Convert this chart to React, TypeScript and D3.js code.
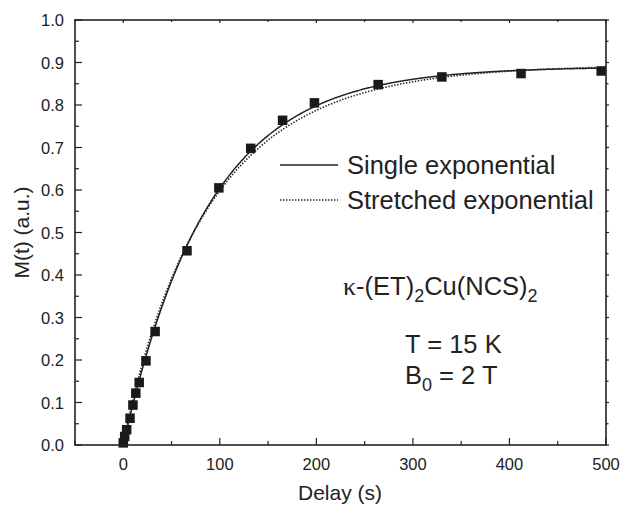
import React from "react";
import * as d3 from "d3";

const delays = [0, 1.5, 3.5, 7, 10, 13, 16.5, 23.5, 33, 66, 99, 132, 165, 198, 264, 330, 412, 495];
const magnetization = [0.005, 0.02, 0.036, 0.063, 0.094, 0.122, 0.147, 0.198, 0.267, 0.457, 0.605, 0.698, 0.764, 0.805, 0.848, 0.866, 0.874, 0.88];

// fit parameters
const singleFit = { m0: 0.89, t1: 88 };
const stretchedFit = { m0: 0.895, t1: 90, beta: 0.94 };

const xTicks = [0, 100, 200, 300, 400, 500];
const xMinor = [-50, 50, 150, 250, 350, 450];
const yTicks = [0, 0.1, 0.2, 0.3, 0.4, 0.5, 0.6, 0.7, 0.8, 0.9, 1.0];
const yMinor = [0.05, 0.15, 0.25, 0.35, 0.45, 0.55, 0.65, 0.75, 0.85, 0.95];

const W = 621;
const H = 507;
const L = 75, R = 606, T = 20, B = 445;
const ink = "#222";
const font = "Liberation Sans, Arial, Helvetica, sans-serif";

export default function App() {
  const x = d3.scaleLinear().domain([-50, 500]).range([L, R]);
  const y = d3.scaleLinear().domain([0, 1]).range([B, T]);

  const tGrid = d3.range(0, 500.5, 1);
  const single = tGrid.map((t) => [t, singleFit.m0 * (1 - Math.exp(-t / singleFit.t1))] as [number, number]);
  const stretched = tGrid.map(
    (t) => [t, stretchedFit.m0 * (1 - Math.exp(-Math.pow(t / stretchedFit.t1, stretchedFit.beta)))] as [number, number]
  );
  const line = d3
    .line<[number, number]>()
    .x((d) => x(d[0]))
    .y((d) => y(d[1]));

  const ms = 9.5;

  return (
    <div style={{ position: "absolute", left: 0, top: 0 }}>
      <svg width={W} height={H} style={{ display: "block", background: "#fff" }} fontFamily={font}>
        {/* curves */}
        <path d={line(stretched) || ""} fill="none" stroke={ink} strokeWidth={1.6} strokeDasharray="1.4,1.6" />
        <path d={line(single) || ""} fill="none" stroke={ink} strokeWidth={1.5} />
        {/* markers */}
        {delays.map((t, i) => (
          <rect key={i} x={x(t) - ms / 2} y={y(magnetization[i]) - ms / 2} width={ms} height={ms} fill="#1a1a1a" />
        ))}
        {/* frame */}
        <rect x={L} y={T} width={R - L} height={B - T} fill="none" stroke={ink} strokeWidth={1.6} />
        {/* x ticks */}
        {xTicks.map((v) => (
          <g key={"xt" + v}>
            <line x1={x(v)} x2={x(v)} y1={B} y2={B - 7} stroke={ink} strokeWidth={1.2} />
            <line x1={x(v)} x2={x(v)} y1={T} y2={T + 3} stroke={ink} strokeWidth={1.2} />
            <text x={x(v)} y={B + 25} textAnchor="middle" fontSize={16.5} fill={ink}>
              {v}
            </text>
          </g>
        ))}
        {xMinor.map((v) => (
          <g key={"xm" + v}>
            <line x1={x(v)} x2={x(v)} y1={B} y2={B - 4} stroke={ink} strokeWidth={1.2} />
            <line x1={x(v)} x2={x(v)} y1={T} y2={T + 2} stroke={ink} strokeWidth={1.2} />
          </g>
        ))}
        {/* y ticks */}
        {yTicks.map((v) => (
          <g key={"yt" + v}>
            <line x1={L} x2={L + 7} y1={y(v)} y2={y(v)} stroke={ink} strokeWidth={1.2} />
            <line x1={R} x2={R + 3} y1={y(v)} y2={y(v)} stroke={ink} strokeWidth={1.2} />
            <text x={L - 11} y={y(v) + 6} textAnchor="end" fontSize={16.5} fill={ink}>
              {v.toFixed(1)}
            </text>
          </g>
        ))}
        {yMinor.map((v) => (
          <g key={"ym" + v}>
            <line x1={L} x2={L + 4} y1={y(v)} y2={y(v)} stroke={ink} strokeWidth={1.2} />
            <line x1={R} x2={R + 2.5} y1={y(v)} y2={y(v)} stroke={ink} strokeWidth={1.2} />
          </g>
        ))}
        {/* axis titles */}
        <text x={340} y={500} textAnchor="middle" fontSize={21} fill={ink}>
          Delay (s)
        </text>
        <text transform={`translate(29, ${(T + B) / 2}) rotate(-90)`} textAnchor="middle" fontSize={21} fill={ink}>
          M(t) (a.u.)
        </text>
        {/* legend */}
        <line x1={280} x2={338} y1={165} y2={165} stroke={ink} strokeWidth={1.5} />
        <text x={347} y={174} fontSize={25.5} fill={ink}>
          Single exponential
        </text>
        <line x1={280} x2={338} y1={200} y2={200} stroke={ink} strokeWidth={1.6} strokeDasharray="1.4,1.6" />
        <text x={347} y={209} fontSize={25.5} fill={ink}>
          Stretched exponential
        </text>
        {/* annotations */}
        <text x={343} y={295} fontSize={25.5} fill={ink}>
          <tspan fontFamily="Liberation Serif, serif" fontSize={26}>κ</tspan>
          <tspan>-(ET)</tspan>
          <tspan fontSize={18} dy={7}>2</tspan>
          <tspan dy={-7}>Cu(NCS)</tspan>
          <tspan fontSize={18} dy={7}>2</tspan>
        </text>
        <text x={405} y={353} fontSize={25.5} fill={ink}>
          T = 15 K
        </text>
        <text x={405} y={384} fontSize={25.5} fill={ink}>
          <tspan>B</tspan>
          <tspan fontSize={18} dy={7}>0</tspan>
          <tspan dy={-7}> = 2 T</tspan>
        </text>
      </svg>
    </div>
  );
}
